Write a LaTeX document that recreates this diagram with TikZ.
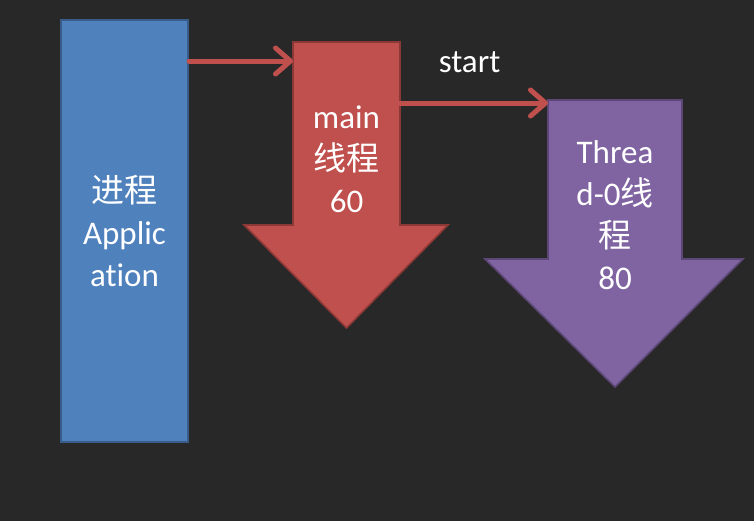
\documentclass[tikz,border=0pt]{standalone}
\usepackage{fontspec}
\setmainfont{Carlito}[Ligatures=NoCommon]
\newfontfamily\cjk{Noto Sans CJK SC}
\usepackage{tikz}
\usetikzlibrary{positioning,arrows.meta,calc}
\newcommand{\zh}[1]{{\cjk #1}}
\definecolor{board}{RGB}{40,40,40}
\definecolor{appblue}{RGB}{79,129,189}
\definecolor{appedge}{RGB}{56,93,138}
\definecolor{mainred}{RGB}{192,80,77}
\definecolor{mainedge}{RGB}{140,56,54}
\definecolor{threadpurple}{RGB}{128,100,162}
\definecolor{threadedge}{RGB}{92,71,118}

\begin{document}
\begin{tikzpicture}[x=0.5pt, y=-0.5pt, >=Stealth,
  chalk/.style={text=white, align=center, font=\fontsize{16.5}{21}\selectfont},
  procbox/.style={chalk, fill=appblue, draw=appedge, line width=1pt, inner sep=0pt},
  shaftbox/.style={inner sep=0pt, outer sep=0pt},
  link/.style={draw=mainred, line width=2.5pt, line cap=round,
    -{Straight Barb[length=7.5pt, width=13pt, round]}}]

% ---------------- Board ----------------
\fill[board] (0,0) rectangle (754,521);

% ---------------- Process ----------------
\node[procbox, minimum width=63.5pt, minimum height=211pt] (app) at (124.5,231)
  {\zh{进程}\\Applic\\ation};

% ---------------- main thread ----------------
\node[shaftbox, minimum width=53.5pt, minimum height=91.5pt] (mainshaft) at (346.5,133.5) {};
\filldraw[fill=mainred, draw=mainedge, line width=0.8pt, line join=miter]
  (mainshaft.north west) -- (mainshaft.north east) -- (mainshaft.south east)
  -- ++(48,0) -- ($(mainshaft.south)+(0,103)$) -- ($(mainshaft.south west)+(-49,0)$)
  -- (mainshaft.south west) -- cycle;
\node[chalk] (maintext) at (346.5,159) {main\\\zh{线程}\\60};

% ---------------- Thread-0 ----------------
\node[shaftbox, minimum width=67pt, minimum height=79.5pt] (threadshaft) at (615,179.5) {};
\filldraw[fill=threadpurple, draw=threadedge, line width=0.8pt, line join=miter]
  (threadshaft.north west) -- (threadshaft.north east) -- (threadshaft.south east)
  -- ++(61,0) -- ($(threadshaft.south)+(0,128)$) -- ($(threadshaft.south west)+(-63,0)$)
  -- (threadshaft.south west) -- cycle;
\node[chalk] (threadtext) at (615,215) {Threa\\d-0\zh{线}\\\zh{程}\\80};

% ---------------- Connectors ----------------
\coordinate (in1) at ([yshift=-9.5pt]mainshaft.north west);
\draw[link] (app.east |- in1) -- (in1);
\coordinate (in2) at ([yshift=-1.5pt]threadshaft.north west);
\draw[link] (mainshaft.east |- in2) -- (in2)
  node[chalk, pos=0.47, yshift=20.5pt] (startlabel) {start};

\end{tikzpicture}
\end{document}
